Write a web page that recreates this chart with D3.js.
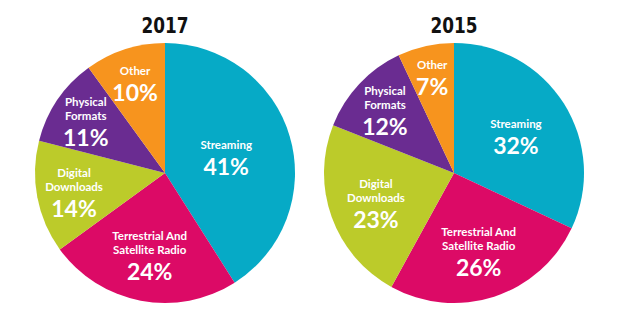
<!DOCTYPE html>
<html>
<head>
<meta charset="utf-8">
<script src="https://cdn.jsdelivr.net/npm/d3@7"></script>
<style>
  body { margin: 0; background: #fff; }
</style>
</head>
<body>
<script>
const width = 627;
const height = 322;

// music listening shares by format
const categories = [
  ['Streaming'],
  ['Terrestrial And', 'Satellite Radio'],
  ['Digital', 'Downloads'],
  ['Physical', 'Formats'],
  ['Other'],
];
const years = ['2017', '2015'];
const values2017 = [41, 24, 14, 11, 10];
const values2015 = [32, 26, 23, 12, 7];
const colors = ['#06aac6', '#dc0a66', '#bccb2a', '#6a2c91', '#f7941e'];

const charts = [
  { year: years[0], values: values2017, cx: 165 },
  { year: years[1], values: values2015, cx: 454 },
];

const radius = 130;
const cy = 173;

const svg = d3.select('body').append('svg')
  .attr('width', width)
  .attr('height', height);

const pie = d3.pie().sort(null).value((d) => d.value);
const arc = d3.arc().innerRadius(0).outerRadius(radius);

// smaller slices get their labels pushed further out
const labelFrac = d3.scaleLinear().domain([7, 41]).range([0.77, 0.49]).clamp(true);

charts.forEach((c) => {
  const g = svg.append('g').attr('transform', `translate(${c.cx},${cy})`);

  // condensed heavy year heading
  g.append('text')
    .attr('x', 0)
    .attr('y', -140)
    .attr('text-anchor', 'middle')
    .attr('textLength', 47)
    .attr('lengthAdjust', 'spacingAndGlyphs')
    .style('font-family', "'DejaVu Sans', sans-serif")
    .style('font-weight', 'bold')
    .style('font-size', '22px')
    .attr('fill', '#111')
    .text(c.year);

  const data = c.values.map((v, i) => ({ value: v, lines: categories[i], color: colors[i] }));
  const arcs = pie(data);

  g.selectAll('path')
    .data(arcs)
    .join('path')
    .attr('d', arc)
    .attr('fill', (d) => d.data.color);

  const labels = g.selectAll('g.label')
    .data(arcs)
    .join('g')
    .attr('class', 'label')
    .attr('transform', (d) => {
      const r = radius * labelFrac(d.data.value);
      const a = (d.startAngle + d.endAngle) / 2;
      return `translate(${r * Math.sin(a)},${-r * Math.cos(a)})`;
    });

  labels.each(function (d) {
    const el = d3.select(this);
    const n = d.data.lines.length;
    const top = -(n * 14 + 18) / 2;
    d.data.lines.forEach((line, i) => {
      el.append('text')
        .attr('y', top + i * 14 + 10)
        .attr('text-anchor', 'middle')
        .style('font-family', 'Lato, sans-serif')
        .style('font-weight', 'bold')
        .style('font-size', '11.5px')
        .attr('fill', '#fff')
        .text(line);
    });
    el.append('text')
      .attr('y', top + n * 14 + 22)
      .attr('text-anchor', 'middle')
      .style('font-family', 'Lato, sans-serif')
      .style('font-weight', 'bold')
      .style('font-size', '23px')
      .attr('fill', '#fff')
      .text(d.data.value + '%');
  });
});
</script>
</body>
</html>
